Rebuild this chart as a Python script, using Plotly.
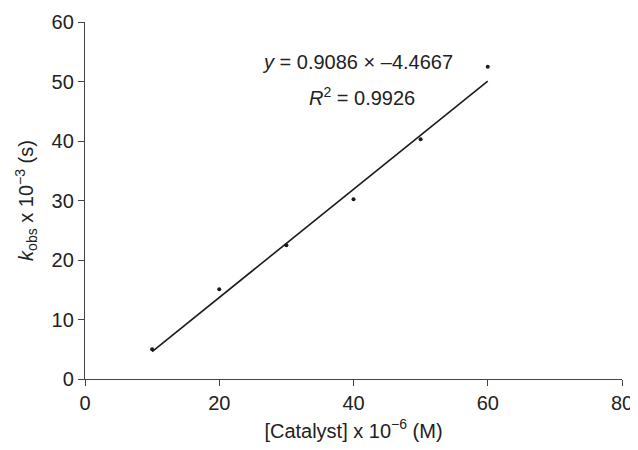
import plotly.graph_objects as go

catalyst = [10, 20, 30, 40, 50, 60]
kobs = [5.0, 15.1, 22.5, 30.2, 40.3, 52.5]
slope = 0.9086
intercept = -4.4667
fit_x = [10, 60]
fit_y = [slope * x + intercept for x in fit_x]

x_ticks = [0, 20, 40, 60, 80]
y_ticks = [0, 10, 20, 30, 40, 50, 60]

FONT = "Liberation Sans, Arial, sans-serif"

fig = go.Figure()
fig.add_trace(go.Scatter(x=fit_x, y=fit_y, mode="lines",
                         line=dict(color="#1a1a1a", width=1.6), showlegend=False))
fig.add_trace(go.Scatter(x=catalyst, y=kobs, mode="markers",
                         marker=dict(color="#1a1a1a", size=4), showlegend=False))

fig.add_annotation(x=40.6, y=53.3, xref="x", yref="y", showarrow=False,
                   text="<i>y</i> = 0.9086 × –4.4667",
                   font=dict(family=FONT, size=20, color="#222222"))
fig.add_annotation(x=41.2, y=47.4, xref="x", yref="y", showarrow=False,
                   text="<i>R</i><sup>2</sup> = 0.9926",
                   font=dict(family=FONT, size=20, color="#222222"))

# page body has an 8px default margin, so the figure is sized/offset to compensate
fig.update_layout(
    width=630, height=442,
    margin=dict(l=77, r=16, t=14, b=71),
    paper_bgcolor="white", plot_bgcolor="white",
    font=dict(family=FONT, size=20, color="#222222"),
    xaxis=dict(range=[0, 80], tickvals=x_ticks, showgrid=False, zeroline=False,
               showline=True, linecolor="#444444", linewidth=1.3,
               ticks="outside", ticklen=6, tickcolor="#444444",
               automargin=False, tickfont=dict(size=20),
               title=dict(text="[Catalyst] x 10<sup>−6</sup> (M)",
                          font=dict(size=20), standoff=10)),
    yaxis=dict(range=[0, 60], tickvals=y_ticks, showgrid=False, zeroline=False,
               showline=True, linecolor="#444444", linewidth=1.3,
               ticks="outside", ticklen=6, tickcolor="#444444",
               automargin=False, tickfont=dict(size=20),
               title=dict(text="<i>k</i><sub>obs</sub> x 10<sup>−3</sup> (s)",
                          font=dict(size=20), standoff=12)),
)

fig.write_html("out.html")
